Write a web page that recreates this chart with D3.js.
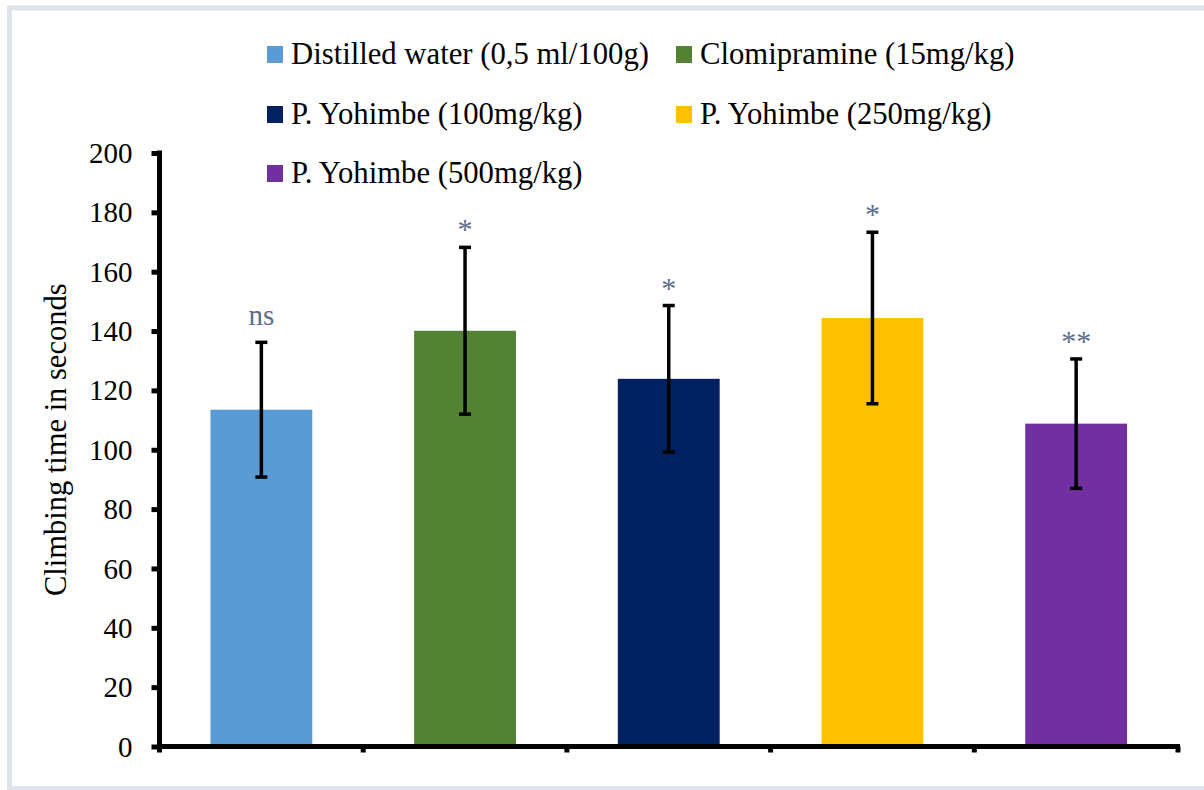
<!DOCTYPE html>
<html>
<head>
<meta charset="utf-8">
<script src="https://cdn.jsdelivr.net/npm/d3@7"></script>
<style>
  html, body { margin: 0; padding: 0; background: #fff; }
  svg { display: block; }
  text { font-family: "Liberation Serif", "Times New Roman", serif; }
</style>
</head>
<body>
<svg id="chart" width="1204" height="790"></svg>
<script>
// ---- data ----
const categories = [
  "Distilled water (0,5 ml/100g)",
  "Clomipramine (15mg/kg)",
  "P. Yohimbe (100mg/kg)",
  "P. Yohimbe (250mg/kg)",
  "P. Yohimbe (500mg/kg)"
];
const means = [113.5, 140.1, 123.9, 144.4, 108.8];
const errors = [22.7, 28.1, 24.7, 28.9, 21.8];
const significance = ["ns", "*", "*", "*", "**"];
const colors = ["#5b9bd5", "#548235", "#002060", "#ffc000", "#7030a0"];
const yTicks = [0, 20, 40, 60, 80, 100, 120, 140, 160, 180, 200];
const yTitle = "Climbing time in seconds";

// ---- layout ----
const svg = d3.select("#chart");
const pLeft = 159.5, pRight = 1178, pTop = 153, pBottom = 746.5;

// frame
svg.append("rect")
  .attr("x", 9.5).attr("y", 8).attr("width", 1220).attr("height", 780.5)
  .attr("fill", "none").attr("stroke", "#dfe4eb").attr("stroke-width", 5);

const x = d3.scaleBand().domain(categories).range([pLeft, pRight]).padding(0);
const y = d3.scaleLinear().domain([0, 200]).range([pBottom, pTop]);

const g = svg.append("g");

// bars
const bw = x.bandwidth() * 0.5;
g.selectAll("rect.bar").data(categories).join("rect")
  .attr("class", "bar")
  .attr("x", (d) => x(d) + x.bandwidth() / 2 - bw / 2)
  .attr("y", (d, i) => y(means[i]))
  .attr("width", bw)
  .attr("height", (d, i) => y(0) - y(means[i]))
  .attr("fill", (d, i) => colors[i]);

// error bars
const eb = g.selectAll("g.err").data(categories).join("g").attr("class", "err")
  .attr("transform", (d) => `translate(${x(d) + x.bandwidth() / 2},0)`);
eb.append("line")
  .attr("x1", 0).attr("x2", 0)
  .attr("y1", (d, i) => y(means[i] + errors[i]))
  .attr("y2", (d, i) => y(means[i] - errors[i]))
  .attr("stroke", "#000").attr("stroke-width", 3.5);
eb.append("line")
  .attr("x1", -6).attr("x2", 6)
  .attr("y1", (d, i) => y(means[i] + errors[i]))
  .attr("y2", (d, i) => y(means[i] + errors[i]))
  .attr("stroke", "#000").attr("stroke-width", 3.5);
eb.append("line")
  .attr("x1", -6).attr("x2", 6)
  .attr("y1", (d, i) => y(means[i] - errors[i]))
  .attr("y2", (d, i) => y(means[i] - errors[i]))
  .attr("stroke", "#000").attr("stroke-width", 3.5);

// significance labels
eb.append("text")
  .attr("x", 0)
  .attr("y", (d, i) => y(means[i] + errors[i]) - (significance[i] === "ns" ? 17 : 8))
  .attr("text-anchor", "middle")
  .attr("font-size", (d, i) => significance[i] === "ns" ? 29 : 30)
  .attr("fill", "#5d6d89")
  .text((d, i) => significance[i]);

// y axis
const yAxis = d3.axisLeft(y).tickValues(yTicks).tickSize(8).tickSizeOuter(0).tickPadding(19);
const ya = svg.append("g").attr("transform", `translate(${pLeft},0)`).call(yAxis);
ya.select(".domain").attr("stroke", "#000").attr("stroke-width", 5)
  .attr("d", `M0,${pTop - 2.5}V${pBottom + 2.5}`);
ya.selectAll(".tick line").attr("stroke", "#000").attr("stroke-width", 5);
ya.selectAll(".tick text").attr("font-size", 29).attr("fill", "#000")
  .attr("font-family", "Liberation Serif").attr("dy", "0.33em");

// x axis (ticks at category boundaries)
const xa = svg.append("g");
xa.append("line").attr("x1", pLeft - 2.5).attr("x2", pRight + 2)
  .attr("y1", pBottom).attr("y2", pBottom)
  .attr("stroke", "#000").attr("stroke-width", 5);
const bounds = categories.map((c) => x(c)).concat([x(categories[categories.length - 1]) + x.bandwidth()]);
xa.selectAll("line.xt").data(bounds).join("line").attr("class", "xt")
  .attr("x1", (d) => d).attr("x2", (d) => d)
  .attr("y1", pBottom).attr("y2", pBottom + 6)
  .attr("stroke", "#000").attr("stroke-width", 5);

// y title
svg.append("text")
  .attr("transform", `translate(66,${(pTop + pBottom) / 2 - 10}) rotate(-90)`)
  .attr("text-anchor", "middle")
  .attr("font-size", 30.5)
  .attr("fill", "#000")
  .text(yTitle);

// legend
const legendPos = [
  [267, 54.5], [676, 54.5],
  [267, 114.5], [676, 114.5],
  [267, 173.5]
];
const lg = svg.append("g").selectAll("g").data(categories).join("g")
  .attr("transform", (d, i) => `translate(${legendPos[i][0]},${legendPos[i][1]})`);
lg.append("rect").attr("x", 0).attr("y", -8.5).attr("width", 16).attr("height", 17)
  .attr("fill", (d, i) => colors[i]);
lg.append("text").attr("x", 24).attr("y", 9.5)
  .attr("font-size", 30.7).attr("fill", "#000")
  .text((d) => d);
</script>
</body>
</html>
